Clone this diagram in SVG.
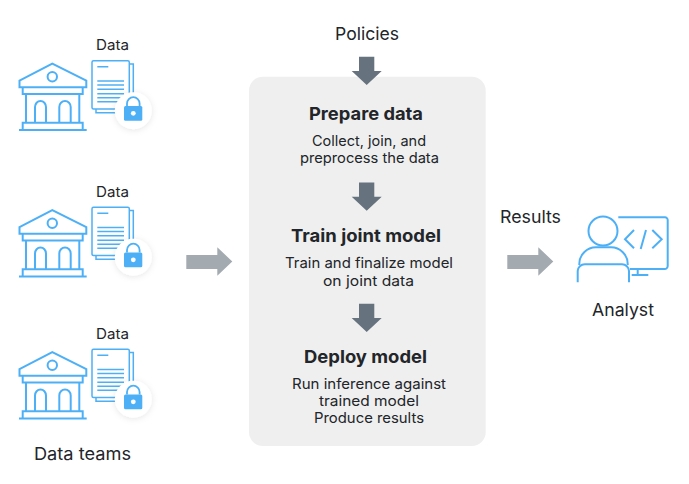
<svg xmlns="http://www.w3.org/2000/svg" xmlns:xlink="http://www.w3.org/1999/xlink" width="689" height="484" viewBox="0 0 689 484">
  <style>
    text { font-family: "Inter", "Liberation Sans", sans-serif; fill: #222529; text-anchor: middle; }
    .label { font-size: 17.5px; }
    .small { font-size: 14.5px; }
    .head { font-size: 18px; font-weight: 700; }
    .body { font-size: 14.4px; }
    .ln { fill: none; stroke: #4db0f7; stroke-width: 2; }
    .thin { fill: none; stroke: #4db0f7; stroke-width: 1.5; }
  </style>
  <defs>
    <filter id="softShadow" x="-50%" y="-50%" width="200%" height="200%">
      <feDropShadow dx="0" dy="1" stdDeviation="3" flood-color="#000" flood-opacity="0.1"/>
    </filter>
    <polygon id="arrowDown" points="359,56.7 374.3,56.7 374.3,71 381.7,71 366.7,85 351.7,71 359,71" fill="#66737e"/>
    <polygon id="arrowRight" points="507.3,255 538.3,255 538.3,247.3 553.3,261.5 538.3,275.7 538.3,269 507.3,269" fill="#a3abb0"/>
    <g id="teamIcon">
      <path class="ln" d="M19.5 80.7 L52.3 63.5 L86.3 80.7 V87.3 H19.5 Z"/>
      <circle class="ln" cx="52.3" cy="76.7" r="4.7"/>
      <path class="ln" d="M22.7 87.3 V94 H82.7 V87.3 M26 94 V122.7 M79.3 94 V122.7 M22.7 129.3 V122.7 H82.7 V129.3 M19 130 H86.7"/>
      <path class="ln" d="M35 122.7 V107 A5.5 6 0 0 1 46 107 V122.7"/>
      <path class="ln" d="M59.3 122.7 V107 A5.7 6 0 0 1 70.7 107 V122.7"/>
      <path class="thin" d="M129.5 64 H133.3 V112.7 H96 V109"/>
      <rect class="thin" x="92" y="60.7" width="37.3" height="48.3" rx="1.5" fill="#fff"/>
      <path class="thin" d="M97.3 66.7 H108.3 M97.3 81 H124 M97.3 85 H124 M97.3 89.3 H124 M97.3 93.7 H124 M97.3 97.7 H124 M97.3 101.7 H124"/>
      <circle cx="133.3" cy="110.7" r="18.5" fill="#fff" filter="url(#softShadow)"/>
      <path d="M127 106 V103.5 A6.3 6.3 0 0 1 139.6 103.5 V106" fill="none" stroke="#4db0f7" stroke-width="1.8"/>
      <rect x="124" y="106" width="18.3" height="14.7" rx="1.5" fill="#4db0f7"/>
      <circle cx="133.3" cy="113.3" r="2.4" fill="#fff"/>
    </g>
  </defs>

  <g id="team-1">
    <use href="#teamIcon"/>
    <text class="small" x="112.5" y="50" textLength="33" lengthAdjust="spacingAndGlyphs">Data</text>
  </g>
  <g id="team-2">
    <use href="#teamIcon" y="146.5"/>
    <text class="small" x="112.5" y="196.5" textLength="33" lengthAdjust="spacingAndGlyphs">Data</text>
  </g>
  <g id="team-3">
    <use href="#teamIcon" y="288.5"/>
    <text class="small" x="112.5" y="338.5" textLength="33" lengthAdjust="spacingAndGlyphs">Data</text>
  </g>
  <g id="team-caption">
    <text class="label" x="82.5" y="459.5" textLength="97" lengthAdjust="spacingAndGlyphs">Data teams</text>
  </g>

  <g id="policies">
    <text class="label" x="367" y="39.5" textLength="64" lengthAdjust="spacingAndGlyphs">Policies</text>
  </g>

  <g id="pipeline">
    <rect x="249" y="76.7" width="236.7" height="369.3" rx="14" fill="#efefef"/>
    <text class="head" x="366" y="119.5" textLength="114" lengthAdjust="spacingAndGlyphs">Prepare data</text>
    <text class="body" x="369" y="145.5" textLength="114" lengthAdjust="spacingAndGlyphs">Collect, join, and</text>
    <text class="body" x="369.5" y="162.5" textLength="139" lengthAdjust="spacingAndGlyphs">preprocess the data</text>
    <text class="head" x="366" y="241.5" textLength="150" lengthAdjust="spacingAndGlyphs">Train joint model</text>
    <text class="body" x="369" y="267.5" textLength="168" lengthAdjust="spacingAndGlyphs">Train and finalize model</text>
    <text class="body" x="368.5" y="285.5" textLength="91" lengthAdjust="spacingAndGlyphs">on joint data</text>
    <text class="head" x="365.5" y="362.5" textLength="123" lengthAdjust="spacingAndGlyphs">Deploy model</text>
    <text class="body" x="369" y="388.5" textLength="154" lengthAdjust="spacingAndGlyphs">Run inference against</text>
    <text class="body" x="369" y="405.5" textLength="100" lengthAdjust="spacingAndGlyphs">trained model</text>
    <text class="body" x="369" y="422.5" textLength="110" lengthAdjust="spacingAndGlyphs">Produce results</text>
  </g>

  <g id="connectors">
    <use href="#arrowDown"/>
    <use href="#arrowDown" y="125.7"/>
    <use href="#arrowDown" y="247"/>
    <use href="#arrowRight" x="-321"/>
    <use href="#arrowRight"/>
  </g>

  <g id="results">
    <text class="label" x="530.5" y="222.5" textLength="61" lengthAdjust="spacingAndGlyphs">Results</text>
  </g>

  <g id="analyst">
    <circle class="ln" cx="603" cy="231" r="14.5"/>
    <path class="ln" d="M579.3 265 V264 A16.7 16.7 0 0 1 596 247.3 H611 A16.7 16.7 0 0 1 627.7 264 V265"/>
    <path class="ln" d="M577.7 282.3 V271 A7 7 0 0 1 584.7 264.3 H622 A7 7 0 0 1 629 271 V282.3"/>
    <path class="ln" d="M618.3 217.3 H665 A2.7 2.7 0 0 1 667.7 220 V266 A3 3 0 0 1 664.7 269 H630 M637.7 269 V275 M631.7 275 H648.3"/>
    <path class="ln" d="M634 230 L625 239.3 L634 248.3 M646 230 L640.7 249 M652.3 230 L661.7 239.3 L652.3 248.3"/>
    <text class="label" x="623" y="315.5" textLength="62" lengthAdjust="spacingAndGlyphs">Analyst</text>
  </g>
</svg>
